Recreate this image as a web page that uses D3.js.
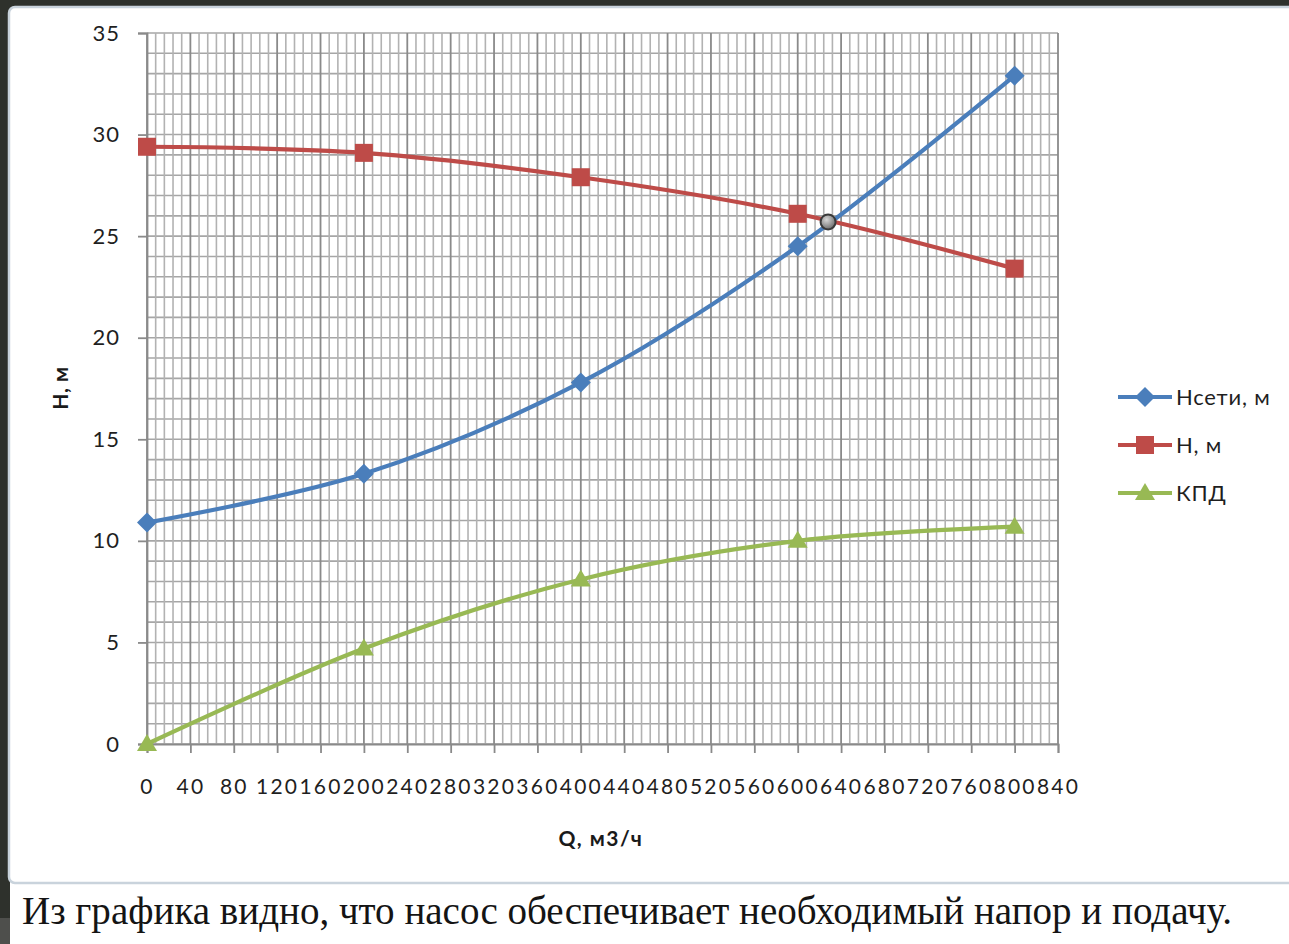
<!DOCTYPE html>
<html>
<head>
<meta charset="utf-8">
<script src="https://cdn.jsdelivr.net/npm/d3@7"></script>
<style>
  html, body { margin: 0; padding: 0; background: #ffffff; }
  svg { display: block; }
</style>
</head>
<body>
<svg id="chart" width="1289" height="944"></svg>
<script>
// Flow rate, m3/h
const flow = [0, 200, 400, 600, 800];
// Network head, m
const hNetwork = [10.9, 13.3, 17.8, 24.5, 32.9];
// Pump head, m
const hPump = [29.4, 29.1, 27.9, 26.1, 23.4];
// Efficiency
const efficiency = [0, 4.7, 8.1, 10.0, 10.7];
// Operating point (pump curve meets network curve)
const operatingPoint = [{ q: 628, h: 25.7 }];

const xTicks = d3.range(0, 841, 40);
const yTicks = d3.range(0, 36, 5);
const seriesNames = ["Нсети, м", "Н, м", "КПД"];
const caption = "Из графика видно, что насос обеспечивает необходимый напор и подачу.";

const svg = d3.select("#chart");
const W = 1289, H = 944;

// Backdrop: dark slide background with white content panel
svg.append("rect").attr("width", W).attr("height", H).attr("fill", "#2e312c");
svg.append("rect").attr("x", 0).attr("y", 918).attr("width", 10).attr("height", 26).attr("fill", "#4e4f4c");
svg.append("rect").attr("x", 10).attr("y", 876).attr("width", W - 10).attr("height", H - 876).attr("fill", "#ffffff");
svg.append("rect").attr("x", 9).attr("y", 7).attr("width", W + 10).attr("height", 876)
  .attr("rx", 6).attr("fill", "#ffffff").attr("stroke", "#c9d3dc").attr("stroke-width", 2.5);

const x = d3.scaleLinear().domain([0, 840]).range([147, 1058]);
const y = d3.scaleLinear().domain([0, 35]).range([744, 33]);

const grid = svg.append("g");
// horizontal gridlines every 1 m
grid.selectAll("line.h").data(d3.range(0, 36, 1)).join("line")
  .attr("x1", x(0)).attr("x2", x(840))
  .attr("y1", d => y(d)).attr("y2", d => y(d))
  .attr("stroke", "#a6a6a6").attr("stroke-width", 1.6);
// minor vertical gridlines every 8 m3/h
grid.selectAll("line.vm").data(d3.range(0, 841, 8).filter(v => v % 40 !== 0)).join("line")
  .attr("y1", y(0)).attr("y2", y(35))
  .attr("x1", d => x(d)).attr("x2", d => x(d))
  .attr("stroke", "#b2b2b2").attr("stroke-width", 1.6);
// major vertical gridlines
grid.selectAll("line.vM").data(xTicks).join("line")
  .attr("y1", y(0)).attr("y2", y(35))
  .attr("x1", d => x(d)).attr("x2", d => x(d))
  .attr("stroke", "#8a8a8a").attr("stroke-width", 1.8);

const fontUI = "Lato, 'Open Sans', sans-serif";

// X axis
const xAxis = svg.append("g").attr("transform", `translate(0,${y(0)})`)
  .call(d3.axisBottom(x).tickValues(xTicks).tickSize(9).tickPadding(26).tickFormat(d3.format("d")));
xAxis.select(".domain").attr("stroke", "#8a8a8a").attr("stroke-width", 1.8);
xAxis.selectAll(".tick line").attr("stroke", "#8a8a8a").attr("stroke-width", 1.8);
xAxis.selectAll(".tick text").attr("fill", "#1f1f1f").style("font-family", fontUI)
  .style("font-size", "21px").style("letter-spacing", "2.2px");

// Y axis
const yAxis = svg.append("g").attr("transform", `translate(${x(0)},0)`)
  .call(d3.axisLeft(y).tickValues(yTicks).tickSize(9).tickPadding(18).tickFormat(d3.format("d")));
yAxis.select(".domain").attr("stroke", "#8a8a8a").attr("stroke-width", 1.8);
yAxis.selectAll(".tick line").attr("stroke", "#8a8a8a").attr("stroke-width", 1.8);
yAxis.selectAll(".tick text").attr("fill", "#1f1f1f").style("font-family", fontUI)
  .style("font-size", "22px").style("letter-spacing", "1px");

// Axis titles
svg.append("text").attr("transform", "translate(68,388) rotate(-90)")
  .attr("text-anchor", "middle").style("font-family", fontUI).style("font-weight", "bold")
  .style("font-size", "21px").style("letter-spacing", "0.5px").attr("fill", "#1a1a1a").text("H, м");
svg.append("text").attr("x", 601).attr("y", 846)
  .attr("text-anchor", "middle").style("font-family", fontUI).style("font-weight", "bold")
  .style("font-size", "21px").style("letter-spacing", "1.5px").attr("fill", "#1a1a1a").text("Q, м3/ч");

const series = [
  { name: seriesNames[0], values: hNetwork, color: "#4a7ebb", shape: "diamond" },
  { name: seriesNames[1], values: hPump, color: "#be4b48", shape: "square" },
  { name: seriesNames[2], values: efficiency, color: "#98b954", shape: "triangle" }
];

const line = d3.line().x(d => x(d.q)).y(d => y(d.v)).curve(d3.curveCatmullRom.alpha(0.5));

function marker(g, shape, color, cx, cy) {
  if (shape === "diamond") {
    g.append("path").attr("d", `M${cx},${cy - 10}L${cx + 10},${cy}L${cx},${cy + 10}L${cx - 10},${cy}Z`).attr("fill", color);
  } else if (shape === "square") {
    g.append("rect").attr("x", cx - 9).attr("y", cy - 9).attr("width", 18).attr("height", 18).attr("fill", color);
  } else {
    g.append("path").attr("d", `M${cx},${cy - 10}L${cx + 10},${cy + 7}L${cx - 10},${cy + 7}Z`).attr("fill", color);
  }
}

series.forEach(s => {
  const pts = flow.map((q, i) => ({ q, v: s.values[i] }));
  svg.append("path").datum(pts).attr("d", line)
    .attr("fill", "none").attr("stroke", s.color).attr("stroke-width", 4.2).attr("stroke-linecap", "round");
  const g = svg.append("g");
  pts.forEach(p => marker(g, s.shape, s.color, x(p.q), y(p.v)));
});

// Operating point marker
const defs = svg.append("defs");
const rg = defs.append("radialGradient").attr("id", "opGrad").attr("cx", "40%").attr("cy", "35%").attr("r", "65%");
rg.append("stop").attr("offset", "0%").attr("stop-color", "#d8d8d8");
rg.append("stop").attr("offset", "100%").attr("stop-color", "#6f6f6f");
svg.selectAll("circle.op").data(operatingPoint).join("circle")
  .attr("cx", d => x(d.q)).attr("cy", d => y(d.h)).attr("r", 7.5)
  .attr("fill", "url(#opGrad)").attr("stroke", "#3a3a3a").attr("stroke-width", 2);

// Legend
const legend = svg.append("g");
series.forEach((s, i) => {
  const ly = 397 + i * 48;
  legend.append("line").attr("x1", 1118).attr("x2", 1172).attr("y1", ly).attr("y2", ly)
    .attr("stroke", s.color).attr("stroke-width", 4.2);
  marker(legend, s.shape, s.color, 1145, ly);
  legend.append("text").attr("x", 1176).attr("y", ly).attr("dy", "0.36em")
    .style("font-family", fontUI).style("font-size", "22px").style("letter-spacing", "0.8px")
    .attr("fill", "#1f1f1f").text(s.name);
});

// Caption below the chart: scaled to span the slide width, slightly tall
const cap = svg.append("text").attr("x", 0).attr("y", 0)
  .style("font-family", "'Liberation Serif', 'DejaVu Serif', serif").style("font-size", "38px")
  .attr("fill", "#141414").text(caption);
const natural = cap.node().getComputedTextLength();
cap.attr("transform", `translate(22,924) scale(${1210 / natural},1.08)`);
</script>
</body>
</html>
